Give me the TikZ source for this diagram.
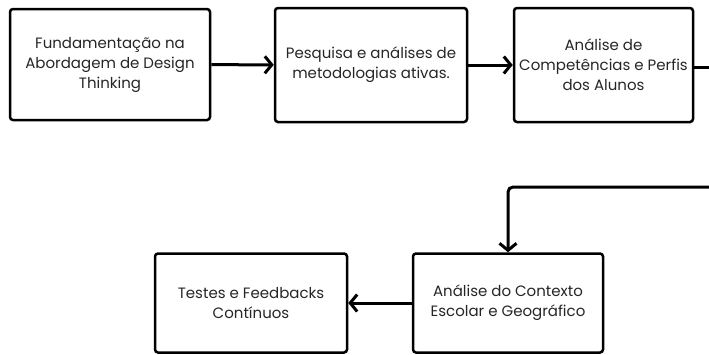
\documentclass[tikz,border=0pt]{standalone}
\usepackage{fontspec}
\setmainfont{Poppins}
\usetikzlibrary{arrows.meta}

\begin{document}
\begin{tikzpicture}[x=1pt, y=-1pt]
      \tikzstyle{arrow} = [line width=3pt, -{Straight Barb[length=7pt, width=17pt, line width=3pt]}]
      \tikzstyle{stage} = [rectangle, rounded corners=3pt, line width=2.5pt, draw=black, fill=white,
                           text=black!85, align=center, inner sep=1pt,
                           font=\fontsize{15}{20}\selectfont]
      \useasboundingbox (0,0) rectangle (709,354);

      \node[stage, minimum width=200pt, minimum height=111pt] (fund) at (110, 64.5)
           {Fundamentação na\\Abordagem de Design\\Thinking};
      \node[stage, minimum width=192pt, minimum height=114pt] (pesq) at (371, 65)
           {Pesquisa e análises de\\metodologias ativas.};
      \node[stage, minimum width=179pt, minimum height=114pt] (comp) at (603.5, 65)
           {Análise de\\Competências e Perfis\\dos Alunos};
      \node[stage, minimum width=190pt, minimum height=99pt] (ctx) at (508, 303)
           {Análise do Contexto\\Escolar e Geográfico};
      \node[stage, minimum width=192pt, minimum height=99pt] (test) at (251, 303)
           {Testes e Feedbacks\\Contínuos};

      \coordinate (s-output) at (716, 67);
      \coordinate (s-input) at (716, 187);

      \draw [arrow] (fund) -- (pesq);
      \draw [arrow] (pesq) -- (comp);
      \draw [line width=3pt] (comp.east |- s-output) -- (s-output);
      \draw [arrow, rounded corners=5pt] (s-input) -| (ctx.north);
      \draw [arrow] (ctx) -- (test);
\end{tikzpicture}
\end{document}
